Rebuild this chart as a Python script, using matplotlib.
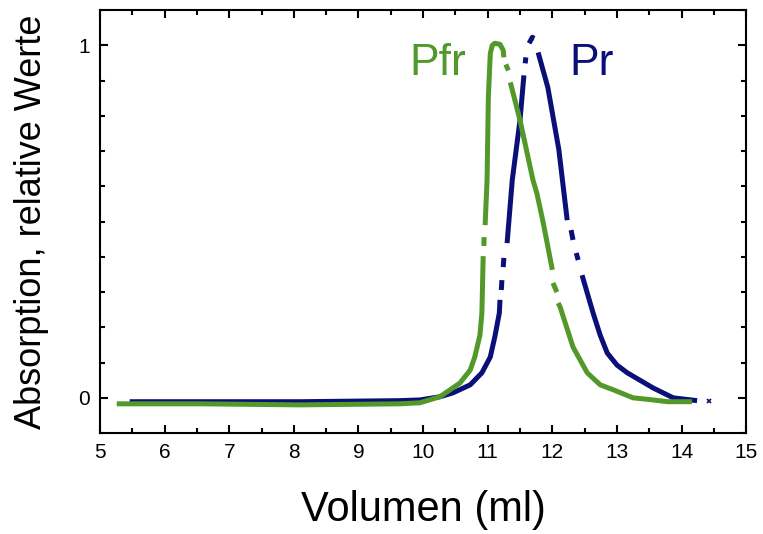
import matplotlib.pyplot as plt
import numpy as np
from matplotlib.ticker import MultipleLocator

plt.rcParams['font.family'] = ['Liberation Sans', 'DejaVu Sans']

nan = float('nan')  # breaks in the trace, as in the scanned figure

# Pr (dark blue)
pr_x = [5.46, 6.55, 8.10, 9.64, 9.95, 10.26, 10.46, 10.73, 10.91, 11.04, 11.11, 11.18, 11.19, nan,
        11.21, 11.22, nan, 11.24, 11.25, nan, 11.30, 11.38, 11.50, 11.56, nan,
        11.58, 11.59, nan, 11.64, 11.69, 11.72, nan, 11.78, 11.93, 12.10, 12.23, nan,
        12.29, 12.32, nan, 12.37, 12.40, nan, 12.46, 12.63, 12.74, 12.85, 13.00,
        13.16, 13.56, 13.87, 14.24]
pr_y = [-0.011, -0.011, -0.011, -0.008, -0.006, 0.003, 0.014, 0.037, 0.071, 0.116, 0.173, 0.241, 0.278, nan,
        0.306, 0.334, nan, 0.371, 0.397, nan, 0.439, 0.618, 0.788, 0.915, nan,
        0.949, 0.966, nan, 1.006, 1.023, 1.020, nan, 0.980, 0.881, 0.705, 0.504, nan,
        0.476, 0.448, nan, 0.411, 0.391, nan, 0.348, 0.241, 0.178, 0.127, 0.093,
        0.071, 0.028, 0.0, -0.008]

# Pfr (green)
pfr_x = [5.26, 6.55, 8.10, 9.64, 9.95, 10.26, 10.57, 10.73, 10.80, 10.88, 10.91, 10.93, nan,
         10.94, 10.945, nan, 10.96, 10.99, 11.01, 11.04, 11.07, 11.11, 11.19, 11.24, 11.25, nan,
         11.28, 11.32, nan, 11.35, 11.50, 11.70, 11.76, 11.86, 12.00, nan,
         12.01, 12.07, nan, 12.09, 12.12, 12.32, 12.54, 12.74, 12.94, 13.25, 13.56,
         13.78, 14.16]
pfr_y = [-0.017, -0.017, -0.020, -0.017, -0.014, 0.003, 0.042, 0.079, 0.116, 0.178, 0.241, 0.402, nan,
         0.431, 0.456, nan, 0.490, 0.618, 0.853, 0.977, 1.0, 1.006, 1.003, 0.986, 0.966, nan,
         0.946, 0.929, nan, 0.895, 0.788, 0.618, 0.581, 0.496, 0.363, nan,
         0.326, 0.300, nan, 0.269, 0.258, 0.144, 0.071, 0.037, 0.023, 0.0, -0.006,
         -0.011, -0.011]

x_ticks = [5, 6, 7, 8, 9, 10, 11, 12, 13, 14, 15]
y_ticks = [0, 1]

blue = '#0b0f78'
green = '#52992a'

fig = plt.figure(figsize=(7.63, 5.34), dpi=100)
ax = fig.add_axes([0.131, 0.189, 0.847, 0.792])

ax.plot(pr_x, pr_y, color=blue, lw=3.6, solid_capstyle='butt', zorder=2)
ax.plot(pfr_x, pfr_y, color=green, lw=3.6, solid_capstyle='butt', zorder=3)
ax.plot([14.42], [-0.01], marker='x', ms=3, color=blue, mew=1.2)

ax.text(10.23, 0.95, 'Pfr', color=green, fontsize=32, ha='center', va='center')
ax.text(12.6, 0.95, 'Pr', color=blue, fontsize=32, ha='center', va='center')

ax.set_xlim(5, 15)
ax.set_ylim(-0.1, 1.1)
ax.set_xticks(x_ticks)
ax.set_yticks(y_ticks)
ax.xaxis.set_minor_locator(MultipleLocator(0.5))
ax.yaxis.set_minor_locator(MultipleLocator(0.1))
ax.tick_params(which='both', direction='in', top=True, right=True, width=1.5,
               labelsize=15, colors='black')
ax.tick_params(which='major', length=6, pad=7)
ax.tick_params(which='minor', length=3.5)
for s in ax.spines.values():
    s.set_linewidth(1.5)

ax.set_xlabel('Volumen (ml)', fontsize=30, labelpad=20)
ax.set_ylabel('Absorption, relative Werte', fontsize=26, labelpad=21)

fig.savefig('out.png', dpi=100)
